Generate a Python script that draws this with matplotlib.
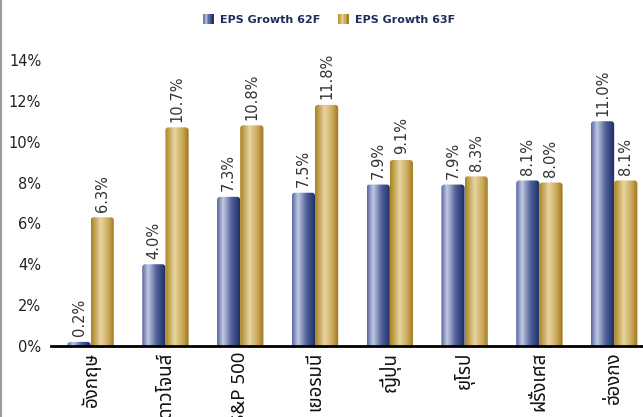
import matplotlib
matplotlib.use("Agg")
import matplotlib.pyplot as plt
import numpy as np
from matplotlib.colors import LinearSegmentedColormap
from matplotlib.patches import FancyBboxPatch, Rectangle
from matplotlib.legend_handler import HandlerBase
from matplotlib.lines import Line2D

plt.rcParams["font.family"] = ["Noto Sans Thai", "DejaVu Sans"]

categories = ["อังกฤษ", "ดาวโจนส์", "S&P 500", "เยอรมนี", "ญี่ปุ่น", "ยุโรป", "ฝรั่งเศส", "ฮ่องกง"]
eps_62f = [0.2, 4.0, 7.3, 7.5, 7.9, 7.9, 8.1, 11.0]
eps_63f = [6.3, 10.7, 10.8, 11.8, 9.1, 8.3, 8.0, 8.1]
series_names = ["EPS Growth 62F", "EPS Growth 63F"]
y_ticks = [0, 2, 4, 6, 8, 10, 12, 14]

# horizontal shading across each bar (left -> right)
blue_cmap = LinearSegmentedColormap.from_list(
    "blue_bar",
    [(0.0, "#5a68a2"), (0.25, "#c3c9e2"), (0.6, "#52639c"), (1.0, "#1a2a62")],
)
gold_cmap = LinearSegmentedColormap.from_list(
    "gold_bar",
    [(0.0, "#a9841f"), (0.4, "#e7d5a2"), (0.75, "#c9a655"), (1.0, "#9a7419")],
)


class ShadedHandle:
    def __init__(self, cmap):
        self.cmap = cmap


class ShadedHandler(HandlerBase):
    def create_artists(self, legend, orig_handle, xdescent, ydescent,
                       width, height, fontsize, trans):
        n = 8
        strips = []
        for i in range(n):
            color = orig_handle.cmap((i + 0.5) / n)
            strips.append(Rectangle((-xdescent + i * width / n, -ydescent),
                                    width / n + 0.3, height,
                                    facecolor=color, edgecolor="none",
                                    transform=trans))
        return strips


fig = plt.figure(figsize=(6.43, 4.17), dpi=100)
ax = fig.add_axes([0.0793, 0.1703, 0.934, 0.686])

x = np.arange(len(categories))
width = 0.31
x_per_px = 1 / 74.8
y_per_px = 1 / 20.43
gradient = np.linspace(0, 1, 64).reshape(1, -1)


def shaded_bars(positions, values, cmap):
    bars = ax.bar(positions, values, width, color="none", edgecolor="none")
    for rect in bars:
        x0 = rect.get_x()
        w = rect.get_width()
        h = rect.get_height()
        radius = 3 * x_per_px
        shape = FancyBboxPatch(
            (x0, -0.5), w, h + 0.5,
            boxstyle=f"round,pad=0,rounding_size={radius}",
            mutation_aspect=(3 * y_per_px) / radius,
            facecolor="none", edgecolor="none",
        )
        ax.add_patch(shape)
        img = ax.imshow(gradient, cmap=cmap, aspect="auto",
                        extent=(x0, x0 + w, -0.5, h), zorder=2)
        img.set_clip_path(shape)
    return bars


bars_62 = shaded_bars(x - width / 2, eps_62f, blue_cmap)
bars_63 = shaded_bars(x + width / 2, eps_63f, gold_cmap)

for bars, values in [(bars_62, eps_62f), (bars_63, eps_63f)]:
    for rect, val in zip(bars, values):
        ax.annotate(f"{val:.1f}%",
                    (rect.get_x() + rect.get_width() / 2, val),
                    xytext=(0, 4), textcoords="offset points",
                    rotation=90, ha="center", va="bottom",
                    fontsize=10.5, color="#333333", annotation_clip=False,
                    family=["DejaVu Sans"])

ax.set_xlim(-0.53, 7.5)
ax.set_ylim(0, 14)
ax.set_yticks(y_ticks)
ax.set_yticklabels([f"{t}%" for t in y_ticks], fontsize=10.5, color="#222222",
                   family=["DejaVu Sans"])
ax.set_xticks(x)
ax.set_xticklabels(categories, rotation=90, fontsize=13.5, fontweight="bold",
                   color="#111111", va="top", ha="center")
ax.tick_params(axis="both", length=0)
ax.tick_params(axis="y", pad=7)
ax.tick_params(axis="x", pad=4)

for side in ["top", "right", "left"]:
    ax.spines[side].set_visible(False)
ax.spines["bottom"].set_linewidth(2)
ax.spines["bottom"].set_color("black")
ax.spines["bottom"].set_zorder(5)

handles = [ShadedHandle(blue_cmap), ShadedHandle(gold_cmap)]
leg = fig.legend(handles, series_names, loc="upper center",
                 bbox_to_anchor=(0.512, 0.99), ncol=2, frameon=False,
                 handlelength=0.9, handleheight=1.0,
                 columnspacing=1.6, handletextpad=0.6,
                 handler_map={ShadedHandle: ShadedHandler()},
                 prop={"family": ["DejaVu Sans"], "weight": "bold", "size": 8})
for text in leg.get_texts():
    text.set_color("#1f2d5c")

# thin grey frame line on the left edge
fig.add_artist(Line2D([0.001, 0.001], [0, 1], color="#9a9a9a", lw=1.5,
                      transform=fig.transFigure))

fig.savefig("out.png", dpi=100)
